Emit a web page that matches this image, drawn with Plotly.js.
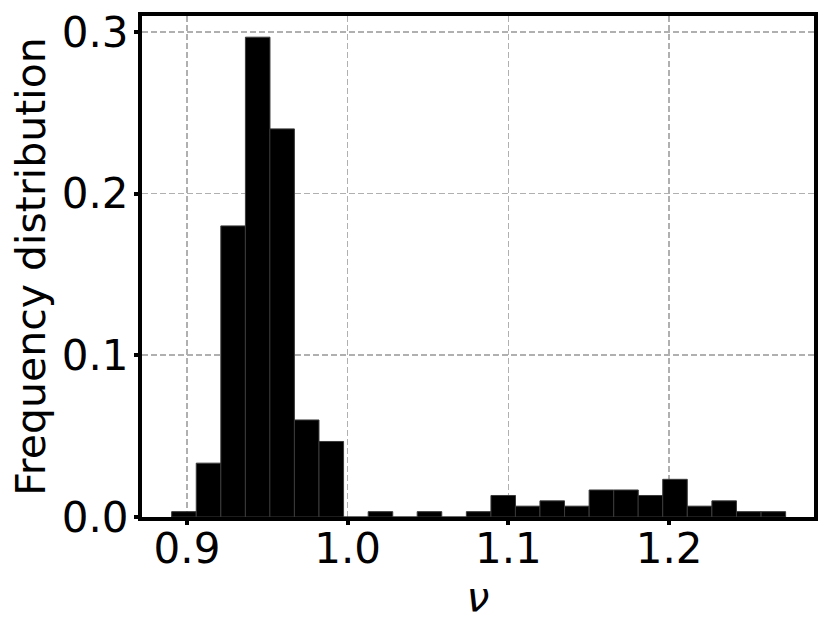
<!DOCTYPE html>
<html>
<head>
<meta charset="utf-8">
<script src="https://cdn.plot.ly/plotly-3.0.1.min.js"></script>
<style>
  html, body { margin: 0; padding: 0; background: #ffffff; }
  #chart { width: 830px; height: 632px; }
</style>
</head>
<body>
<div id="chart"></div>
<script>
// Histogram of nu: bin centres and frequency per bin
const binCenters = [
    0.8981, 0.9134, 0.9287, 0.9440, 0.9592, 0.9745, 0.9898, 1.0051, 1.0204,
    1.0356, 1.0509, 1.0662, 1.0815, 1.0968, 1.1120, 1.1273, 1.1426, 1.1579,
    1.1732, 1.1884, 1.2037, 1.2190, 1.2343, 1.2496, 1.2649
];
const frequencies = [
    0.0033, 0.0333, 0.1800, 0.2967, 0.2400, 0.0600, 0.0467, 0.0, 0.0033,
    0.0, 0.0033, 0.0, 0.0033, 0.0133, 0.0067, 0.0100, 0.0067, 0.0167,
    0.0167, 0.0133, 0.0233, 0.0067, 0.0100, 0.0033, 0.0033
];
const binWidth = 0.01528;

const xTicks = [0.9, 1.0, 1.1, 1.2];
const xTickLabels = ['0.9', '1.0', '1.1', '1.2'];
const yTicks = [0.0, 0.1, 0.2, 0.3];
const yTickLabels = ['0.0', '0.1', '0.2', '0.3'];

const trace = {
    x: binCenters,
    y: frequencies,
    type: 'bar',
    width: binCenters.map(() => binWidth),
    marker: {
        color: '#000000',
        line: { color: '#3a3a3a', width: 1 }
    },
    hoverinfo: 'x+y'
};

const axisCommon = {
    showline: true,
    linecolor: '#000000',
    linewidth: 4,
    mirror: true,
    ticks: 'outside',
    ticklen: 4,
    tickwidth: 4,
    tickcolor: '#000000',
    showgrid: true,
    gridcolor: '#b0b0b0',
    gridwidth: 1.6,
    griddash: '6px,3px',
    zeroline: false,
    tickfont: { family: 'DejaVu Sans', size: 42, color: '#000000' }
};

const layout = {
    width: 830,
    height: 632,
    margin: { l: 142, r: 16, t: 16, b: 115 },
    paper_bgcolor: '#ffffff',
    plot_bgcolor: '#ffffff',
    showlegend: false,
    bargap: 0,
    font: { family: 'DejaVu Sans', color: '#000000' },
    xaxis: Object.assign({}, axisCommon, {
        range: [0.8720, 1.2902],
        tickmode: 'array',
        tickvals: xTicks,
        ticktext: xTickLabels,
        ticklabelstandoff: -12,
        title: { text: '<i>ν</i>', font: { family: 'DejaVu Sans', size: 41 }, standoff: 4 }
    }),
    yaxis: Object.assign({}, axisCommon, {
        range: [0, 0.3098],
        tickmode: 'array',
        tickvals: yTicks,
        ticktext: yTickLabels,
        ticklabelstandoff: -3,
        title: { text: 'Frequency distribution', font: { family: 'DejaVu Sans', size: 41 }, standoff: 4 }
    })
};

Plotly.newPlot('chart', [trace], layout, { displayModeBar: false, staticPlot: true });
</script>
</body>
</html>
